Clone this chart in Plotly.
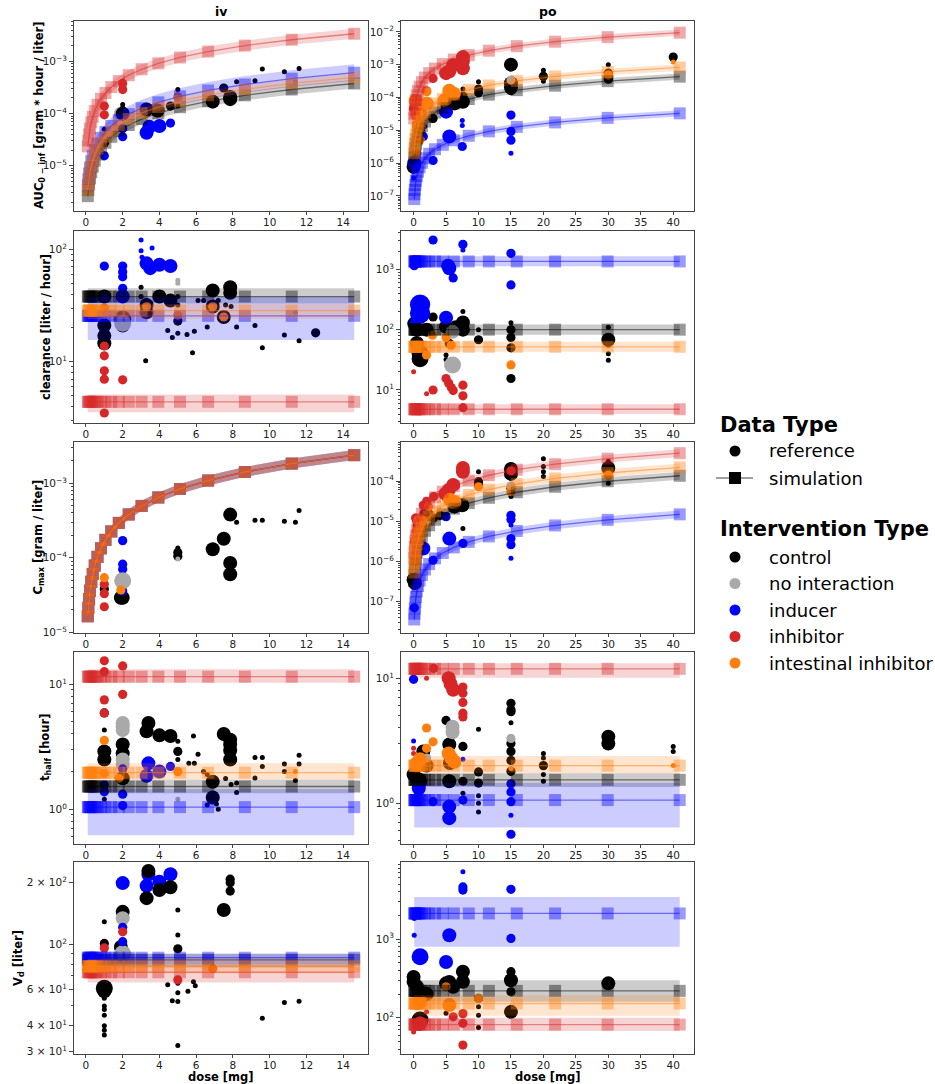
import math
import plotly.graph_objects as go

W, H = 935, 1084

# ------------------------------------------------------------------ groups
GROUP_NAMES = {"C": "control", "N": "no interaction", "D": "inducer",
               "I": "inhibitor", "G": "intestinal inhibitor"}
GROUP_ORDER = ["C", "N", "D", "I", "G"]
GROUP_RGB = {"C": (0, 0, 0), "N": (169, 169, 169), "D": (0, 0, 255),
             "I": (214, 39, 40), "G": (255, 127, 14)}
SIM_GROUPS = ["C", "D", "I", "G"]   # order of the simulated series below

# ------------------------------------------------------------------ simulation dose grids [mg]
IV_SIM_DOSE = [0.10, 0.13, 0.17, 0.22, 0.29, 0.37, 0.48, 0.63, 0.82, 1.06,
               1.38, 1.79, 2.33, 3.03, 3.94, 5.12, 6.65, 8.65, 11.2, 14.6]
PO_SIM_DOSE = [0.10, 0.14, 0.19, 0.27, 0.36, 0.50, 0.68, 0.93, 1.28, 1.75,
               2.40, 3.30, 4.50, 6.20, 8.50, 11.6, 15.9, 21.8, 29.9, 41.0]

# AUC0-inf [g*h/L], simulated medians
IV_AUC_SIM_CONTROL = [2.6e-6, 3.4e-6, 4.4e-6, 5.7e-6, 7.5e-6, 9.6e-6, 1.25e-5, 1.64e-5, 2.13e-5, 2.76e-5,
                      3.59e-5, 4.65e-5, 6.06e-5, 7.88e-5, 1.02e-4, 1.33e-4, 1.73e-4, 2.25e-4, 2.91e-4, 3.80e-4]
IV_AUC_SIM_INDUCER = [4.2e-6, 5.5e-6, 7.1e-6, 9.2e-6, 1.22e-5, 1.55e-5, 2.02e-5, 2.65e-5, 3.44e-5, 4.45e-5,
                      5.80e-5, 7.52e-5, 9.79e-5, 1.27e-4, 1.65e-4, 2.15e-4, 2.79e-4, 3.63e-4, 4.70e-4, 6.13e-4]
IV_AUC_SIM_INHIBITOR = [2.35e-5, 3.06e-5, 4.0e-5, 5.17e-5, 6.82e-5, 8.70e-5, 1.13e-4, 1.48e-4, 1.93e-4, 2.49e-4,
                        3.24e-4, 4.21e-4, 5.48e-4, 7.12e-4, 9.26e-4, 1.20e-3, 1.56e-3, 2.03e-3, 2.63e-3, 3.43e-3]
IV_AUC_SIM_INTESTINAL = [3.4e-6, 4.4e-6, 5.8e-6, 7.5e-6, 9.9e-6, 1.26e-5, 1.63e-5, 2.14e-5, 2.79e-5, 3.60e-5,
                         4.69e-5, 6.09e-5, 7.92e-5, 1.03e-4, 1.34e-4, 1.74e-4, 2.26e-4, 2.94e-4, 3.81e-4, 4.96e-4]
IV_AUC_BAND_LO = [0.80, 0.70, 0.80, 0.85]
IV_AUC_BAND_HI = [1.18, 1.45, 1.25, 1.20]

PO_AUC_SIM_CONTROL = [1.05e-6, 1.47e-6, 2.0e-6, 2.84e-6, 3.78e-6, 5.25e-6, 7.14e-6, 9.77e-6, 1.34e-5, 1.84e-5,
                      2.52e-5, 3.47e-5, 4.73e-5, 6.51e-5, 8.93e-5, 1.22e-4, 1.67e-4, 2.29e-4, 3.14e-4, 4.31e-4]
PO_AUC_SIM_INDUCER = [8.0e-8, 1.12e-7, 1.52e-7, 2.16e-7, 2.88e-7, 4.0e-7, 5.44e-7, 7.44e-7, 1.02e-6, 1.4e-6,
                      1.92e-6, 2.64e-6, 3.6e-6, 4.96e-6, 6.8e-6, 9.28e-6, 1.27e-5, 1.74e-5, 2.39e-5, 3.28e-5]
PO_AUC_SIM_INHIBITOR = [2.3e-5, 3.22e-5, 4.37e-5, 6.21e-5, 8.28e-5, 1.15e-4, 1.56e-4, 2.14e-4, 2.94e-4, 4.03e-4,
                        5.52e-4, 7.59e-4, 1.04e-3, 1.43e-3, 1.96e-3, 2.67e-3, 3.66e-3, 5.01e-3, 6.88e-3, 9.43e-3]
PO_AUC_SIM_INTESTINAL = [2.0e-6, 2.8e-6, 3.8e-6, 5.4e-6, 7.2e-6, 1.0e-5, 1.36e-5, 1.86e-5, 2.56e-5, 3.5e-5,
                         4.8e-5, 6.6e-5, 9.0e-5, 1.24e-4, 1.7e-4, 2.32e-4, 3.18e-4, 4.36e-4, 5.98e-4, 8.2e-4]
PO_AUC_BAND_LO = [0.80, 0.80, 0.80, 0.80]
PO_AUC_BAND_HI = [1.25, 1.25, 1.25, 1.25]

# Cmax [g/L], simulated medians (iv: identical for every intervention)
IV_CMAX_SIM = [1.64e-5, 2.13e-5, 2.79e-5, 3.61e-5, 4.76e-5, 6.07e-5, 7.87e-5, 1.03e-4, 1.34e-4, 1.74e-4,
               2.26e-4, 2.94e-4, 3.82e-4, 4.97e-4, 6.46e-4, 8.40e-4, 1.09e-3, 1.42e-3, 1.84e-3, 2.39e-3]
IV_CMAX_BAND_LO = [0.86, 0.86, 0.86, 0.86]
IV_CMAX_BAND_HI = [1.17, 1.17, 1.17, 1.17]

PO_CMAX_SIM_CONTROL = [3.3e-7, 4.6e-7, 6.3e-7, 8.9e-7, 1.19e-6, 1.65e-6, 2.24e-6, 3.07e-6, 4.22e-6, 5.78e-6,
                       7.92e-6, 1.09e-5, 1.49e-5, 2.05e-5, 2.81e-5, 3.83e-5, 5.25e-5, 7.19e-5, 9.87e-5, 1.35e-4]
PO_CMAX_SIM_INDUCER = [3.6e-8, 5.0e-8, 6.8e-8, 9.7e-8, 1.3e-7, 1.8e-7, 2.45e-7, 3.35e-7, 4.6e-7, 6.3e-7,
                       8.6e-7, 1.19e-6, 1.62e-6, 2.23e-6, 3.06e-6, 4.18e-6, 5.72e-6, 7.85e-6, 1.08e-5, 1.48e-5]
PO_CMAX_SIM_INHIBITOR = [1.2e-6, 1.68e-6, 2.28e-6, 3.24e-6, 4.32e-6, 6.0e-6, 8.16e-6, 1.12e-5, 1.54e-5, 2.1e-5,
                         2.88e-5, 3.96e-5, 5.4e-5, 7.44e-5, 1.02e-4, 1.39e-4, 1.91e-4, 2.62e-4, 3.59e-4, 4.92e-4]
PO_CMAX_SIM_INTESTINAL = [5.3e-7, 7.4e-7, 1.01e-6, 1.43e-6, 1.91e-6, 2.65e-6, 3.6e-6, 4.93e-6, 6.78e-6, 9.28e-6,
                          1.27e-5, 1.75e-5, 2.39e-5, 3.29e-5, 4.51e-5, 6.15e-5, 8.43e-5, 1.16e-4, 1.58e-4, 2.17e-4]
PO_CMAX_BAND_LO = [0.80, 0.80, 0.80, 0.80]
PO_CMAX_BAND_HI = [1.25, 1.25, 1.25, 1.25]

# dose-independent parameters: median, lower, upper (order: control, inducer, inhibitor, intestinal)
IV_CL_SIM = [38.0, 25.6, 4.4, 28.5]
IV_CL_LO = [33.0, 15.6, 3.55, 24.0]
IV_CL_HI = [45.0, 37.8, 5.1, 32.4]
PO_CL_SIM = [100.0, 1350.0, 4.8, 52.0]
PO_CL_LO = [82.0, 1120.0, 4.0, 43.0]
PO_CL_HI = [122.0, 1650.0, 5.8, 63.0]
IV_THALF_SIM = [1.52, 1.04, 11.5, 1.96]
IV_THALF_LO = [1.34, 0.62, 10.3, 1.72]
IV_THALF_HI = [1.72, 1.45, 13.2, 2.33]
PO_THALF_SIM = [1.54, 1.06, 11.9, 2.0]
PO_THALF_LO = [1.35, 0.64, 10.1, 1.74]
PO_THALF_HI = [1.74, 1.45, 13.2, 2.39]
IV_VD_SIM = [84.0, 86.0, 73.0, 78.0]
IV_VD_LO = [77.0, 80.0, 65.0, 72.0]
IV_VD_HI = [90.0, 90.0, 80.0, 85.0]
PO_VD_SIM = [220.0, 2120.0, 82.0, 152.0]
PO_VD_LO = [160.0, 800.0, 68.0, 106.0]
PO_VD_HI = [300.0, 3440.0, 100.0, 194.0]

# ------------------------------------------------------------------ reference studies
# (dose [mg], value, number of subjects, intervention code)
IV_AUC_REF = [
    (1.0, 2.7e-5, 5, "C"), (1.0, 5.0e-5, 1, "C"), (1.9, 1.0e-4, 15, "N"), (2.0, 1.0e-4, 15, "C"),
    (2.0, 1.5e-4, 1, "C"), (2.0, 1.3e-4, 1, "C"), (3.3, 1.2e-4, 15, "C"), (3.9, 1.15e-4, 15, "C"),
    (4.6, 1.4e-4, 5, "C"), (5.0, 2.9e-4, 1, "C"), (5.0, 1.4e-4, 1, "C"), (6.9, 1.7e-4, 15, "C"),
    (7.5, 3.1e-4, 5, "C"), (7.85, 2.1e-4, 15, "C"), (7.85, 1.9e-4, 15, "C"), (8.2, 4.1e-4, 1, "C"),
    (9.2, 4.3e-4, 1, "C"), (9.6, 7.2e-4, 1, "C"), (10.8, 6.4e-4, 1, "C"), (11.6, 7.4e-4, 1, "C"),
    (11.4, 4.1e-4, 1, "N"),
    (1.0, 1.55e-5, 5, "D"), (2.0, 3.6e-5, 5, "D"), (2.0, 5.2e-5, 5, "D"), (3.3, 4.3e-5, 15, "D"),
    (3.45, 5.6e-5, 15, "D"), (4.0, 5.8e-5, 15, "D"), (4.6, 6.6e-5, 5, "D"),
    (1.0, 1.4e-4, 5, "I"), (1.0, 9.5e-5, 5, "I"), (2.0, 3.8e-4, 5, "I"), (2.0, 2.9e-4, 5, "I"),
    (5.0, 2.1e-4, 5, "G"),
]
PO_AUC_REF = [
    (0.0, 7.7e-7, 15, "C"), (0.5, 1.5e-5, 5, "C"), (3.0, 2.3e-5, 5, "C"), (5.0, 7.4e-5, 15, "C"),
    (6.3, 6.6e-5, 15, "C"), (7.6, 7.4e-5, 15, "C"), (7.6, 1.1e-4, 5, "C"), (7.6, 1.8e-4, 1, "C"),
    (10.0, 1.8e-4, 5, "C"), (10.0, 1.4e-4, 5, "C"), (10.0, 3.0e-4, 1, "C"),
    (15.0, 1.0e-3, 15, "C"), (15.0, 2.7e-4, 15, "C"), (15.0, 2.0e-4, 15, "C"), (15.0, 1.6e-4, 5, "C"),
    (20.0, 6.8e-4, 1, "C"), (20.0, 4.4e-4, 5, "C"), (20.0, 3.1e-4, 1, "C"),
    (30.0, 1.0e-3, 1, "C"), (30.0, 5.5e-4, 5, "C"), (30.0, 4.2e-4, 5, "C"), (30.0, 3.6e-4, 5, "C"),
    (40.0, 1.7e-3, 5, "C"), (40.0, 1.4e-3, 1, "C"),
    (15.0, 3.4e-4, 5, "N"),
    (0.1, 1.0e-6, 15, "D"), (0.0, 3.5e-7, 1, "D"), (1.0, 1.0e-5, 5, "D"), (1.5, 6.5e-6, 5, "D"),
    (1.7, 1.3e-5, 1, "D"), (3.0, 1.2e-6, 5, "D"), (5.0, 3.7e-5, 15, "D"), (5.5, 6.5e-6, 15, "D"),
    (7.5, 3.2e-6, 5, "D"), (7.5, 2.0e-5, 1, "D"), (7.5, 1.4e-5, 1, "D"), (15.0, 2.9e-5, 5, "D"),
    (15.0, 9.2e-6, 5, "D"), (15.0, 5.0e-6, 5, "D"), (15.0, 2.0e-6, 1, "D"),
    (0.0, 4.7e-5, 5, "I"), (1.3, 3.7e-5, 5, "I"), (2.0, 1.6e-4, 5, "I"), (3.0, 3.8e-4, 5, "I"),
    (5.0, 5.5e-4, 15, "I"), (5.5, 6.3e-4, 15, "I"), (6.1, 9.7e-4, 15, "I"), (7.6, 7.7e-4, 15, "I"),
    (7.6, 1.3e-3, 15, "I"), (7.6, 1.7e-3, 15, "I"),
    (0.3, 8.0e-5, 15, "G"), (0.6, 3.0e-5, 15, "G"), (0.8, 1.3e-5, 15, "G"), (1.0, 5.1e-6, 5, "G"),
    (0.5, 2.0e-6, 5, "G"), (2.0, 6.6e-5, 15, "G"), (2.05, 1.5e-4, 5, "G"), (4.8, 8.3e-5, 15, "G"),
    (5.5, 1.6e-4, 15, "G"), (6.2, 1.3e-4, 15, "G"), (30.0, 4.8e-4, 5, "G"), (40.0, 1.2e-3, 1, "G"),
]
IV_CL_REF = [
    (1.0, 38, 15, "C"), (1.0, 21, 15, "C"), (1.0, 17, 15, "C"), (1.0, 14.6, 15, "C"), (2.0, 24, 25, "C"),
    (2.0, 21, 15, "C"), (3.0, 46, 1, "C"), (3.0, 38, 1, "C"), (3.3, 32, 15, "C"), (3.3, 27.5, 15, "C"),
    (3.25, 10.2, 1, "C"), (4.0, 38, 15, "C"), (4.6, 35, 15, "C"), (5.0, 23, 5, "C"), (5.0, 17.9, 1, "C"),
    (5.0, 32, 1, "C"), (5.0, 38, 1, "C"), (4.45, 19, 1, "C"), (4.7, 16.4, 1, "C"), (5.5, 17.5, 1, "C"),
    (5.9, 18.7, 1, "C"), (6.1, 35, 1, "C"), (6.4, 35, 1, "C"), (5.8, 12, 1, "C"), (6.6, 20.4, 1, "C"),
    (6.9, 43, 15, "C"), (6.9, 31, 15, "C"), (7.2, 35, 1, "C"), (7.5, 25, 15, "C"), (7.6, 32, 1, "C"),
    (7.9, 31, 1, "C"), (7.85, 46, 15, "C"), (7.85, 41, 15, "C"), (8.2, 20.4, 1, "C"), (9.2, 21, 1, "C"),
    (9.6, 13.3, 1, "C"), (10.8, 17.3, 1, "C"), (11.6, 15.4, 1, "C"), (12.5, 18.1, 5, "C"),
    (5.0, 53, 1, "N"), (5.0, 50, 1, "N"), (2.0, 22, 25, "N"), (11.4, 27.5, 1, "N"),
    (1.0, 71, 5, "D"), (2.0, 71, 5, "D"), (2.0, 63, 5, "D"), (2.0, 57, 5, "D"), (2.0, 45, 5, "D"),
    (2.0, 38, 15, "D"), (1.0, 38, 5, "D"), (3.0, 121, 1, "D"), (3.0, 97, 1, "D"), (3.05, 85, 1, "D"),
    (3.6, 103, 1, "D"), (3.3, 75, 15, "D"), (3.5, 68, 15, "D"), (4.0, 73, 15, "D"), (4.6, 71, 15, "D"),
    (1.0, 13.8, 5, "I"), (1.0, 11.3, 5, "I"), (1.0, 8.3, 5, "I"), (1.0, 7.0, 5, "I"), (2.0, 6.9, 5, "I"),
    (1.0, 3.5, 5, "I"),
    (1.0, 30, 5, "G"), (3.3, 31, 5, "G"), (5.0, 26, 5, "G"), (6.9, 31, 5, "G"), (7.5, 25, 5, "G"),
]
PO_CL_REF = [
    (0.1, 126, 15, "C"), (1.0, 33, 25, "C"), (1.0, 40, 25, "C"), (0.5, 100, 15, "C"), (0.5, 60, 15, "C"),
    (2.0, 100, 15, "C"), (3.0, 162, 5, "C"), (5.0, 112, 15, "C"), (5.5, 59, 5, "C"), (5.0, 38, 1, "C"),
    (5.0, 32, 1, "C"), (6.5, 110, 15, "C"), (7.6, 132, 15, "C"), (7.6, 200, 1, "C"), (7.6, 100, 15, "C"),
    (10.0, 68, 5, "C"), (10.0, 100, 1, "C"), (15.0, 100, 5, "C"), (15.0, 74, 5, "C"), (15.0, 50, 5, "C"),
    (15.0, 15.5, 5, "C"), (15.0, 130, 1, "C"), (30.0, 68, 15, "C"), (30.0, 110, 1, "C"), (30.0, 40, 1, "C"),
    (30.0, 31, 1, "C"), (30.0, 55, 1, "C"),
    (6.0, 92, 15, "N"), (6.0, 26, 25, "N"),
    (3.0, 3060, 5, "D"), (7.6, 2590, 5, "D"), (7.6, 2090, 1, "D"), (15.0, 1840, 5, "D"), (15.0, 550, 5, "D"),
    (5.5, 1040, 15, "D"), (5.3, 1150, 15, "D"), (6.1, 720, 5, "D"), (1.0, 260, 40, "D"), (1.0, 187, 40, "D"),
    (5.0, 158, 15, "D"), (0.1, 1430, 5, "D"), (0.1, 1150, 5, "D"), (0.1, 130, 5, "D"),
    (0.0, 20, 1, "I"), (2.0, 8.7, 1, "I"), (3.0, 10, 5, "I"), (5.0, 15.5, 5, "I"), (5.4, 13, 5, "I"),
    (5.8, 11, 5, "I"), (6.1, 9.8, 5, "I"), (7.6, 12, 5, "I"), (7.6, 8, 5, "I"), (7.6, 5.1, 5, "I"),
    (2.9, 81, 5, "G"), (2.0, 38, 5, "G"), (5.0, 74, 5, "G"), (5.8, 55, 5, "G"), (15.0, 26, 5, "G"),
]
IV_CMAX_REF = [
    (1.0, 3.8e-5, 5, "C"), (1.9, 2.9e-5, 15, "C"), (2.0, 2.9e-5, 15, "C"), (5.0, 1.18e-4, 5, "C"),
    (5.0, 1.05e-4, 5, "C"), (5.0, 1.35e-4, 1, "C"), (6.9, 1.3e-4, 15, "C"), (7.5, 1.8e-4, 15, "C"),
    (7.85, 3.8e-4, 15, "C"), (7.85, 8.5e-5, 15, "C"), (7.85, 6.0e-5, 15, "C"), (8.2, 3.0e-4, 1, "C"),
    (9.2, 3.2e-4, 1, "C"), (9.6, 3.2e-4, 1, "C"), (10.8, 3.1e-4, 1, "C"), (11.4, 3.0e-4, 1, "C"),
    (11.6, 4.3e-4, 1, "C"),
    (2.0, 1.7e-4, 5, "D"), (2.0, 8.2e-5, 5, "D"), (2.0, 7.0e-5, 5, "D"), (2.0, 3.6e-5, 5, "D"),
    (2.0, 4.9e-5, 25, "N"), (5.0, 9.6e-5, 1, "N"),
    (1.0, 4.4e-5, 5, "I"), (1.0, 3.3e-5, 5, "I"), (1.0, 2.2e-5, 5, "I"),
    (1.0, 5.4e-5, 5, "G"), (1.9, 3.7e-5, 5, "G"),
]
PO_CMAX_REF = [
    (0.0, 3.5e-7, 15, "C"), (0.2, 2.9e-7, 15, "C"), (1.0, 8.0e-6, 15, "C"), (2.0, 1.5e-5, 15, "C"),
    (3.0, 1.2e-5, 5, "C"), (4.1, 1.4e-5, 5, "C"), (6.3, 2.3e-5, 15, "C"), (7.5, 2.5e-5, 15, "C"),
    (7.6, 6.6e-6, 1, "C"), (10.0, 1.7e-4, 1, "C"), (10.0, 9.6e-5, 5, "C"), (10.0, 8.0e-5, 5, "C"),
    (15.0, 2.0e-4, 15, "C"), (15.0, 6.6e-5, 5, "C"), (15.0, 4.1e-5, 1, "C"), (15.0, 1.5e-4, 15, "C"),
    (20.0, 3.6e-4, 1, "C"), (20.0, 2.3e-4, 1, "C"), (20.0, 1.7e-4, 1, "C"), (20.0, 1.3e-4, 1, "C"),
    (30.0, 3.1e-4, 1, "C"), (30.0, 2.1e-4, 15, "C"), (30.0, 8.8e-5, 1, "C"),
    (15.0, 7.5e-5, 5, "N"), (6.0, 3.0e-5, 15, "N"),
    (0.1, 7.0e-8, 5, "D"), (1.5, 2.1e-6, 15, "D"), (3.0, 1.07e-6, 5, "D"), (5.0, 1.3e-5, 5, "D"),
    (5.5, 3.7e-6, 15, "D"), (7.6, 2.8e-6, 5, "D"), (15.0, 1.4e-5, 5, "D"), (15.0, 1.1e-5, 5, "D"),
    (15.0, 3.7e-6, 5, "D"), (15.0, 2.6e-6, 5, "D"), (15.0, 1.2e-6, 1, "D"), (15.0, 8.0e-6, 1, "D"),
    (7.6, 2.1e-4, 15, "I"), (7.6, 1.7e-4, 15, "I"), (6.1, 8.0e-5, 15, "I"), (5.4, 6.0e-5, 15, "I"),
    (4.9, 4.8e-5, 15, "I"), (3.1, 4.1e-5, 5, "I"), (2.0, 3.1e-5, 5, "I"), (1.5, 2.5e-5, 5, "I"),
    (0.3, 1.2e-5, 5, "I"), (0.5, 1.0e-5, 5, "I"), (15.0, 1.8e-4, 5, "I"),
    (2.3, 2.3e-5, 5, "G"), (1.0, 9.8e-6, 15, "G"), (0.8, 5.5e-6, 15, "G"), (0.5, 3.1e-6, 15, "G"),
    (0.4, 1.7e-6, 5, "G"), (0.3, 1.0e-6, 5, "G"), (5.6, 3.4e-5, 15, "G"), (6.3, 3.0e-5, 15, "G"),
    (10.0, 7.2e-5, 5, "G"), (15.0, 5.4e-5, 5, "G"), (30.0, 1.4e-4, 5, "G"),
]
IV_THALF_REF = [
    (1.0, 5.9, 5, "C"), (1.0, 4.3, 1, "C"), (1.0, 2.9, 15, "C"), (1.0, 2.5, 15, "C"), (1.0, 1.2, 1, "C"),
    (2.0, 3.3, 15, "C"), (2.0, 2.8, 15, "C"), (2.0, 1.77, 15, "C"), (3.4, 4.9, 15, "C"), (3.3, 4.2, 15, "C"),
    (4.0, 3.9, 15, "C"), (4.6, 3.85, 15, "C"), (5.0, 3.5, 1, "C"), (5.0, 2.9, 5, "C"), (5.0, 2.5, 1, "C"),
    (5.6, 2.33, 1, "C"), (5.85, 3.85, 1, "C"), (5.9, 2.33, 1, "C"), (6.1, 2.75, 1, "C"), (6.4, 2.0, 1, "C"),
    (6.6, 1.9, 1, "C"), (6.9, 1.66, 15, "C"), (6.9, 1.24, 15, "C"), (7.1, 1.1, 1, "C"), (7.2, 1.0, 1, "C"),
    (6.6, 1.08, 1, "C"), (7.5, 4.0, 15, "C"), (7.85, 3.6, 15, "C"), (7.85, 3.3, 15, "C"), (7.85, 2.95, 15, "C"),
    (7.85, 2.5, 15, "C"), (7.6, 1.76, 1, "C"), (7.9, 1.58, 1, "C"), (8.2, 1.62, 1, "C"), (8.2, 1.36, 1, "C"),
    (9.2, 2.59, 1, "C"), (9.2, 1.78, 1, "C"), (9.6, 2.6, 1, "C"), (9.6, 2.2, 1, "C"), (10.8, 2.3, 1, "C"),
    (10.8, 2.0, 1, "C"), (11.4, 1.7, 1, "C"), (11.6, 2.7, 1, "C"), (11.6, 2.3, 1, "C"),
    (2.0, 4.9, 15, "N"), (2.0, 4.6, 15, "N"), (2.0, 4.3, 15, "N"), (2.0, 2.5, 15, "N"), (2.0, 2.3, 15, "N"),
    (5.0, 1.2, 1, "N"),
    (1.0, 1.56, 5, "D"), (1.0, 1.38, 5, "D"), (2.0, 1.32, 5, "D"), (2.0, 1.07, 5, "D"), (2.0, 2.1, 5, "D"),
    (3.4, 2.33, 15, "D"), (3.3, 1.85, 15, "D"), (4.0, 2.0, 15, "D"), (4.6, 2.2, 5, "D"),
    (1.0, 15.4, 5, "I"), (1.0, 12.6, 5, "I"), (2.0, 14.0, 5, "I"), (1.0, 7.5, 5, "I"), (1.0, 5.9, 5, "I"),
    (2.0, 8.3, 5, "I"),
    (1.0, 3.55, 5, "G"), (1.0, 1.93, 5, "G"), (1.8, 1.77, 5, "G"), (5.0, 2.0, 5, "G"), (11.4, 2.0, 1, "G"),
]
PO_THALF_REF = [
    (0.0, 1.7, 15, "C"), (0.8, 1.55, 15, "C"), (1.0, 1.5, 15, "C"), (1.5, 2.6, 15, "C"), (2.0, 2.0, 15, "C"),
    (5.0, 4.6, 5, "C"), (5.5, 2.95, 15, "C"), (5.6, 2.1, 15, "C"), (5.5, 1.5, 15, "C"), (7.6, 2.85, 5, "C"),
    (7.6, 1.5, 5, "C"), (7.6, 1.2, 1, "C"), (10.0, 3.9, 1, "C"), (10.0, 1.78, 5, "C"), (10.0, 1.45, 5, "C"),
    (10.0, 1.15, 1, "C"), (10.0, 1.0, 1, "C"), (10.0, 0.85, 1, "C"), (15.0, 6.3, 5, "C"), (15.0, 5.6, 5, "C"),
    (15.0, 5.4, 5, "C"), (15.0, 4.4, 1, "C"), (15.0, 3.0, 5, "C"), (15.0, 2.6, 5, "C"), (15.0, 2.2, 5, "C"),
    (15.0, 1.8, 5, "C"), (20.0, 2.5, 1, "C"), (20.0, 2.3, 1, "C"), (20.0, 2.0, 5, "C"), (20.0, 1.7, 1, "C"),
    (20.0, 1.5, 1, "C"), (30.0, 3.4, 15, "C"), (30.0, 3.0, 15, "C"), (40.0, 2.85, 1, "C"), (40.0, 2.6, 1, "C"),
    (6.0, 4.1, 15, "N"), (6.0, 3.7, 15, "N"), (15.0, 3.3, 5, "N"), (2.0, 2.3, 5, "N"),
    (0.0, 9.8, 5, "D"), (0.0, 3.15, 1, "D"), (0.8, 1.32, 15, "D"), (3.0, 1.03, 5, "D"), (5.5, 0.94, 15, "D"),
    (5.5, 0.76, 15, "D"), (7.6, 1.06, 5, "D"), (7.6, 2.25, 1, "D"), (15.0, 1.43, 5, "D"), (15.0, 1.23, 5, "D"),
    (15.0, 1.03, 5, "D"), (15.0, 0.8, 1, "D"), (15.0, 0.565, 5, "D"),
    (0.0, 2.75, 1, "I"), (0.0, 2.5, 1, "I"), (2.0, 10.0, 1, "I"), (3.1, 12.0, 5, "I"), (5.4, 10.0, 15, "I"),
    (5.7, 9.0, 15, "I"), (6.1, 8.1, 15, "I"), (7.6, 8.5, 5, "I"), (7.6, 7.6, 5, "I"), (7.6, 6.4, 5, "I"),
    (7.6, 5.25, 5, "I"), (7.6, 4.9, 5, "I"),
    (2.0, 4.0, 5, "G"), (3.0, 3.1, 5, "G"), (2.0, 2.75, 5, "G"), (0.5, 2.1, 15, "G"), (1.0, 2.25, 15, "G"),
    (5.4, 2.5, 15, "G"), (5.8, 2.3, 15, "G"), (6.3, 2.15, 15, "G"), (40.0, 2.0, 1, "G"), (15.0, 1.9, 1, "G"),
]
IV_VD_REF = [
    (3.3, 193, 15, "D"), (3.4, 219, 15, "D"), (4.0, 202, 15, "D"), (4.6, 220, 15, "D"),
    (3.4, 228, 15, "C"), (3.3, 168, 15, "C"), (4.0, 184, 15, "C"), (4.6, 190, 15, "C"), (7.5, 147, 15, "C"),
    (7.85, 208, 5, "C"), (7.85, 200, 5, "C"), (7.85, 182, 5, "C"), (2.0, 144, 15, "C"), (1.9, 97, 15, "C"),
    (1.0, 101, 5, "C"), (1.0, 61, 25, "C"), (1.0, 59, 15, "C"), (1.0, 54.5, 1, "C"), (1.0, 50, 1, "C"),
    (1.0, 48, 1, "C"), (1.0, 45, 1, "C"), (1.0, 40, 1, "C"), (1.0, 38, 1, "C"), (1.0, 36, 1, "C"),
    (1.0, 129, 1, "C"), (5.0, 147, 1, "C"), (5.0, 111, 1, "C"), (5.0, 95, 5, "C"), (5.0, 64.5, 1, "C"),
    (5.0, 58, 1, "C"), (5.0, 52.5, 1, "C"), (5.0, 32, 1, "C"), (4.45, 63.5, 1, "C"), (4.7, 53, 1, "C"),
    (5.55, 59, 1, "C"), (5.85, 65.7, 1, "C"), (5.95, 62.8, 1, "C"), (9.6, 43.5, 1, "C"), (10.8, 52, 1, "C"),
    (11.6, 52.7, 1, "C"),
    (2.0, 134, 15, "N"), (2.0, 90, 25, "N"),
    (2.0, 199, 15, "D"), (2.0, 121, 5, "D"), (2.0, 103, 5, "D"),
    (2.0, 115, 5, "I"), (1.0, 96, 5, "I"), (5.0, 67, 5, "I"),
    (6.9, 76, 5, "G"),
]
PO_VD_REF = [
    (0.0, 330, 15, "C"), (0.0, 287, 15, "C"), (0.5, 250, 15, "C"), (2.0, 200, 15, "C"), (1.0, 94, 25, "C"),
    (5.0, 274, 15, "C"), (5.5, 285, 15, "C"), (6.1, 248, 15, "C"), (7.6, 385, 15, "C"), (7.6, 287, 15, "C"),
    (10.0, 176, 5, "C"), (10.0, 138, 1, "C"), (10.0, 108, 1, "C"), (10.0, 75.5, 1, "C"), (15.0, 385, 5, "C"),
    (15.0, 300, 15, "C"), (15.0, 214, 5, "C"), (15.0, 119, 15, "C"), (30.0, 274, 15, "C"), (5.0, 114, 1, "C"),
    (7.6, 7160, 1, "D"), (7.6, 4600, 5, "D"), (7.6, 4200, 5, "D"), (15.0, 4300, 5, "D"), (0.1, 1830, 1, "D"),
    (0.1, 1120, 1, "D"), (5.5, 1120, 15, "D"), (15.0, 1020, 5, "D"), (1.0, 596, 25, "D"), (5.0, 512, 15, "D"),
    (0.0, 66, 1, "I"), (2.0, 119, 1, "I"), (6.1, 103, 5, "I"), (7.6, 113, 5, "I"), (7.6, 85, 5, "I"),
    (7.6, 45, 5, "I"), (1.0, 85, 15, "I"),
    (5.0, 248, 5, "G"), (5.5, 145, 15, "G"), (1.0, 160, 15, "G"), (10.0, 176, 5, "G"),
]

# ------------------------------------------------------------------ layout geometry (pixels)
COL_X = [(74, 368), (401, 694)]
ROW_Y = [(21, 211), (231, 423), (442, 633), (652, 844), (862, 1054)]
X_RANGES = [(-0.65, 15.35), (-1.94, 43.2)]
X_TICKS = [list(range(0, 15, 2)), list(range(0, 41, 5))]

FONT = "DejaVu Sans"
AXIS_COLOR = "#444444"


def rgba(code, a):
    r, g, b = GROUP_RGB[code]
    return f"rgba({r},{g},{b},{a})"


def pow_label(e):
    s = str(e).replace("-", "\u2212")
    return f"10<sup>{s}</sup>"


def marker_px(n):
    return 5.0 * n ** 0.38


def sim_band(med, lo_ratio, hi_ratio):
    return [m * lo_ratio for m in med], [m * hi_ratio for m in med]


fig = go.Figure()


def axis_ids(k):
    return ("x" if k == 1 else f"x{k}"), ("y" if k == 1 else f"y{k}")


def add_reference(k, records):
    xa, ya = axis_ids(k)
    fig.add_trace(go.Scatter(
        x=[r[0] for r in records], y=[r[1] for r in records], mode="markers",
        marker=dict(size=[marker_px(r[2]) for r in records], opacity=1.0,
                    color=[rgba(r[3], 1.0) for r in records], line=dict(width=0)),
        xaxis=xa, yaxis=ya, showlegend=False, hoverinfo="x+y"))


def add_sim(k, doses, med, lo, hi, code):
    xa, ya = axis_ids(k)
    fig.add_trace(go.Scatter(
        x=doses + doses[::-1], y=hi + lo[::-1], mode="lines", fill="toself",
        fillcolor=rgba(code, 0.2), line=dict(width=0), xaxis=xa, yaxis=ya,
        showlegend=False, hoverinfo="skip"))
    fig.add_trace(go.Scatter(
        x=doses, y=med, mode="lines", line=dict(color=rgba(code, 0.5), width=1.3),
        xaxis=xa, yaxis=ya, showlegend=False, hoverinfo="skip"))
    fig.add_trace(go.Scatter(
        x=doses, y=med, mode="markers",
        marker=dict(symbol="square", size=12, opacity=1.0, color=rgba(code, 0.4), line=dict(width=0)),
        xaxis=xa, yaxis=ya, showlegend=False, hoverinfo="x+y"))


def add_dose_series(k, doses, series, lo_r, hi_r):
    for code, med, lr, hr in zip(SIM_GROUPS, series, lo_r, hi_r):
        lo, hi = sim_band(med, lr, hr)
        add_sim(k, doses, med, lo, hi, code)


def add_constant_series(k, doses, med, lo, hi):
    n = len(doses)
    for code, m, l, h in zip(SIM_GROUPS, med, lo, hi):
        add_sim(k, doses, [m] * n, [l] * n, [h] * n, code)


# ---- panels (row-major: k = 2*(row-1) + col)
add_reference(1, IV_AUC_REF)
add_dose_series(1, IV_SIM_DOSE,
                [IV_AUC_SIM_CONTROL, IV_AUC_SIM_INDUCER, IV_AUC_SIM_INHIBITOR, IV_AUC_SIM_INTESTINAL],
                IV_AUC_BAND_LO, IV_AUC_BAND_HI)
add_reference(2, PO_AUC_REF)
add_dose_series(2, PO_SIM_DOSE,
                [PO_AUC_SIM_CONTROL, PO_AUC_SIM_INDUCER, PO_AUC_SIM_INHIBITOR, PO_AUC_SIM_INTESTINAL],
                PO_AUC_BAND_LO, PO_AUC_BAND_HI)
add_reference(3, IV_CL_REF)
add_constant_series(3, IV_SIM_DOSE, IV_CL_SIM, IV_CL_LO, IV_CL_HI)
add_reference(4, PO_CL_REF)
add_constant_series(4, PO_SIM_DOSE, PO_CL_SIM, PO_CL_LO, PO_CL_HI)
add_reference(5, IV_CMAX_REF)
add_dose_series(5, IV_SIM_DOSE, [IV_CMAX_SIM] * 4, IV_CMAX_BAND_LO, IV_CMAX_BAND_HI)
add_reference(6, PO_CMAX_REF)
add_dose_series(6, PO_SIM_DOSE,
                [PO_CMAX_SIM_CONTROL, PO_CMAX_SIM_INDUCER, PO_CMAX_SIM_INHIBITOR, PO_CMAX_SIM_INTESTINAL],
                PO_CMAX_BAND_LO, PO_CMAX_BAND_HI)
add_reference(7, IV_THALF_REF)
add_constant_series(7, IV_SIM_DOSE, IV_THALF_SIM, IV_THALF_LO, IV_THALF_HI)
add_reference(8, PO_THALF_REF)
add_constant_series(8, PO_SIM_DOSE, PO_THALF_SIM, PO_THALF_LO, PO_THALF_HI)
add_reference(9, IV_VD_REF)
add_constant_series(9, IV_SIM_DOSE, IV_VD_SIM, IV_VD_LO, IV_VD_HI)
add_reference(10, PO_VD_REF)
add_constant_series(10, PO_SIM_DOSE, PO_VD_SIM, PO_VD_LO, PO_VD_HI)

# ---- y axes: log ranges and tick labels
Y_RANGES = {1: (-5.87, -2.22), 2: (-7.46, -1.67), 3: (0.455, 2.163), 4: (0.453, 3.635),
            5: (-5.01, -2.445), 6: (-7.78, -3.03), 7: (-0.278, 1.258), 8: (-0.326, 1.21),
            9: (1.464, 2.402), 10: (1.54, 3.98)}
Y_TICKS = {}
for k, (lo, hi) in Y_RANGES.items():
    exps = [e for e in range(math.ceil(lo), math.floor(hi) + 1)]
    Y_TICKS[k] = ([10.0 ** e for e in exps], [pow_label(e) for e in exps])
Y_TICKS[9] = ([30, 40, 60, 100, 200],
              ["3 \u00d7 10<sup>1</sup>", "4 \u00d7 10<sup>1</sup>", "6 \u00d7 10<sup>1</sup>",
               "10<sup>2</sup>", "2 \u00d7 10<sup>2</sup>"])

tick_font = dict(family=FONT, size=10.5, color="#222222")
for k in range(1, 11):
    row, col = (k - 1) // 2, (k - 1) % 2
    x0, x1 = COL_X[col]
    y0, y1 = ROW_Y[row]
    xa, ya = axis_ids(k)
    lo, hi = Y_RANGES[k]
    major, text = Y_TICKS[k]
    minor_vals = []
    for e in range(math.floor(lo) - 1, math.ceil(hi) + 1):
        for m in range(2, 10):
            v = m * 10.0 ** e
            if lo <= math.log10(v) <= hi and all(abs(v - t) > 1e-12 * v for t in major):
                minor_vals.append(v)
    common = dict(showgrid=False, zeroline=False, showline=True, mirror=True,
                  linecolor=AXIS_COLOR, linewidth=1, ticks="outside",
                  tickwidth=1, tickcolor=AXIS_COLOR, tickfont=tick_font, automargin=False)
    fig.layout["xaxis" if k == 1 else f"xaxis{k}"] = dict(
        domain=[x0 / W, x1 / W], anchor=ya, range=list(X_RANGES[col]), ticklen=3,
        ticklabelstandoff=-2, tickmode="array", tickvals=X_TICKS[col], **common)
    fig.layout["yaxis" if k == 1 else f"yaxis{k}"] = dict(
        domain=[1 - y1 / H, 1 - y0 / H], anchor=xa, type="log", range=[lo, hi], ticklen=4,
        tickmode="array", tickvals=major, ticktext=text,
        minor=dict(tickmode="array", tickvals=minor_vals, ticks="outside", ticklen=2,
                   tickwidth=0.8, tickcolor=AXIS_COLOR, showgrid=False),
        **common)

# ---- labels
annotations = []
for col, title in enumerate(["iv", "po"]):
    cx = (COL_X[col][0] + COL_X[col][1]) / 2
    annotations.append(dict(text=f"<b>{title}</b>", x=cx / W, y=1 - 11 / H, xref="paper", yref="paper",
                            showarrow=False, font=dict(family=FONT, size=12.5, color="#000"),
                            xanchor="center", yanchor="middle"))
    annotations.append(dict(text="<b>dose [mg]</b>", x=cx / W, y=1 - 1077 / H, xref="paper", yref="paper",
                            showarrow=False, font=dict(family=FONT, size=11.5, color="#000"),
                            xanchor="center", yanchor="middle"))
Y_LABELS = ["AUC<sub>0 \u2212 inf</sub> [gram * hour / liter]", "clearance [liter / hour]",
            "C<sub>max</sub> [gram / liter]", "t<sub>half</sub> [hour]", "V<sub>d</sub> [liter]"]
Y_LABEL_X = [39, 46, 38, 45, 18]
for row, (lab, lx) in enumerate(zip(Y_LABELS, Y_LABEL_X)):
    cy = (ROW_Y[row][0] + ROW_Y[row][1]) / 2
    annotations.append(dict(text=f"<b>{lab}</b>", x=lx / W, y=1 - cy / H, xref="paper", yref="paper",
                            showarrow=False, textangle=-90, font=dict(family=FONT, size=11.5, color="#000"),
                            xanchor="center", yanchor="middle"))

# ---- legend, laid out in pixels on the paper
shapes = []
LEG_TITLE_X, LEG_SYM_X, LEG_TEXT_X = 718, 735, 767


def px_box(cx, cy, half):
    return dict(x0=(cx - half) / W, x1=(cx + half) / W, y0=1 - (cy + half) / H, y1=1 - (cy - half) / H)


def legend_text(text, y, bold=False, size=18):
    annotations.append(dict(text=f"<b>{text}</b>" if bold else text,
                            x=(LEG_TITLE_X if bold else LEG_TEXT_X) / W, y=1 - y / H,
                            xref="paper", yref="paper", showarrow=False, xanchor="left", yanchor="middle",
                            font=dict(family=FONT, size=size, color="#000")))


legend_text("Data Type", 425, bold=True, size=21)
shapes.append(dict(type="circle", xref="paper", yref="paper", fillcolor="black",
                   line=dict(width=0), **px_box(LEG_SYM_X, 451, 5.5)))
legend_text("reference", 451)
shapes.append(dict(type="line", xref="paper", yref="paper", x0=716 / W, x1=753 / W,
                   y0=1 - 478 / H, y1=1 - 478 / H, line=dict(color="#808080", width=1.5)))
shapes.append(dict(type="rect", xref="paper", yref="paper", fillcolor="black",
                   line=dict(width=0), **px_box(LEG_SYM_X, 478, 6)))
legend_text("simulation", 478)

legend_text("Intervention Type", 529, bold=True, size=21)
for i, code in enumerate(GROUP_ORDER):
    cy = 557 + i * 26.5
    shapes.append(dict(type="circle", xref="paper", yref="paper", fillcolor=rgba(code, 1.0),
                       line=dict(width=0), **px_box(LEG_SYM_X, cy, 5.5)))
    legend_text(GROUP_NAMES[code], cy)

fig.update_layout(
    width=W, height=H, autosize=False,
    margin=dict(l=0, r=0, t=0, b=0),
    paper_bgcolor="white", plot_bgcolor="white",
    font=dict(family=FONT, color="#000"),
    annotations=annotations, shapes=shapes,
    showlegend=False,
)

fig.write_html("out.html")
